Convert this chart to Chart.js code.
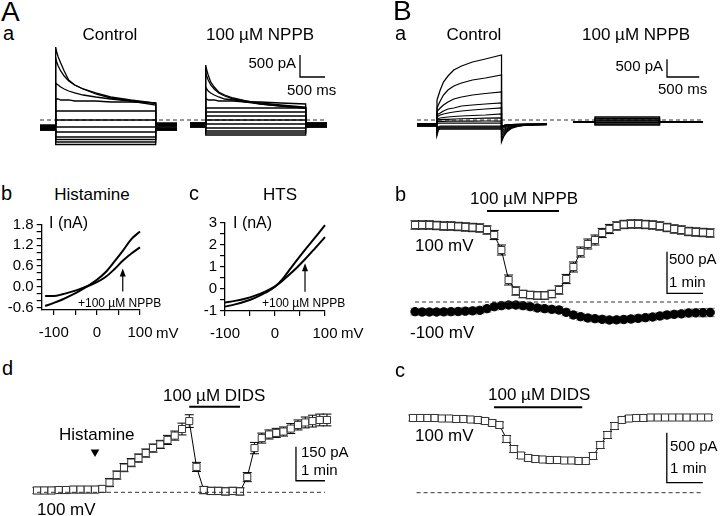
<!DOCTYPE html>
<html><head><meta charset="utf-8">
<script src="https://cdn.jsdelivr.net/npm/chart.js@4.4.1/dist/chart.umd.min.js"></script>
<style>
html,body{margin:0;padding:0;background:#fff;}
#fig{position:relative;width:720px;height:516px;overflow:hidden;background:#fff;font-family:"Liberation Sans",Arial,Helvetica,sans-serif;color:#000;}
#fig canvas{position:absolute;}
.t{position:absolute;white-space:nowrap;line-height:1;font-family:"Liberation Sans",Arial,Helvetica,sans-serif;}
</style></head><body><div id="fig"></div>
<script>
// ---------------- DATA ----------------
// Panel A a : current traces (pA) vs time (ms)
const aPulseT = [0,20,50,100,170,260,380,550,800,1100,1500,2000];
const aPre = -314, aPost = 2426;
const aCtrlDecay = [
  [1659,1546,1432,1296,1114,909,796,705,591,500,432,341],
  [1409,1318,1227,1114,1000,886,796,705,614,523,455,386],
  [841,818,796,750,705,659,614,568,523,477,432,386],
  [477,477,477,455,455,455,432,432,432,409,409,386]
];
const aCtrlSteady = [205,0,-159,-273,-386,-443,-500,-557];
const aCtrlHold = [-114,-136,-136,-159,-159,-159,-182,-182,-205,-205,-227,-227];
const aCtrlTail = [-68,-91,-91,-114,-114,-136,-159,-182,-205,-205,-227,-227];
const aNppbDecay = [
  [1250,1136,1023,864,750,636,568,500,432,386,341,295],
  [1091,1000,909,796,705,614,545,477,432,364,318,273],
  [750,705,659,614,568,523,477,455,409,364,318,273],
  [477,477,455,455,455,432,432,432,409,409,386,364]
];
const aNppbSteady = [273,182,91,0,-91,-182,-250,-295,-341];
const aNppbHold = [-68,-68,-91,-91,-91,-114,-114,-114,-136,-136,-136,-159,-159];

// Panel B a
const bPulseT = [0,20,50,100,170,260,380,550,750,1000];
const bTailT = [1000,1030,1080,1150,1250,1400,1705];
const bPre = -310;
const bCtrl = [
  [560,672,840,1064,1232,1400,1512,1624,1708,1820],
  [336,420,532,700,840,952,1036,1120,1176,1260],
  [224,280,336,420,504,588,644,700,742,784],
  [140,168,196,252,308,336,392,420,448,476],
  [84,112,140,168,196,224,252,280,308,336],
  [28,42,56,70,84,98,112,126,140,168],
  [0,5,10,15,20,28,35,42,50,56],
  [-42,-40,-38,-36,-34,-32,-30,-30,-28,-28],
  [-100,-90,-84,-84,-84,-84,-84,-84,-84,-84],
  [-280,-196,-168,-168,-168,-168,-168,-168,-168,-168],
  [-336,-224,-196,-196,-196,-196,-196,-196,-196,-196],
  [-392,-252,-224,-224,-224,-224,-224,-224,-224,-224],
  [-420,-280,-252,-252,-252,-252,-252,-252,-252,-252]
];
const bCtrlHold = [-112,-112,-112,-112,-112,-112,-112,-112,-112,-140,-140,-168,-168];
const bCtrlTail = [
  [-616,-476,-336,-238,-182,-140,-126],
  [-532,-420,-308,-224,-168,-140,-126],
  [-448,-364,-280,-210,-168,-140,-126],
  [-364,-308,-252,-196,-154,-140,-126],
  [-308,-266,-224,-182,-154,-140,-126],
  [-252,-224,-196,-168,-140,-126,-126],
  [-224,-196,-168,-154,-140,-126,-126],
  [-196,-182,-168,-154,-140,-126,-112],
  [-168,-154,-140,-140,-126,-126,-112],
  [-168,-154,-140,-140,-126,-126,-112],
  [-168,-154,-140,-140,-126,-112,-112],
  [-168,-154,-140,-126,-126,-112,-112],
  [-168,-154,-140,-126,-112,-112,-112]
];
const bNppbLevels = [84,42,0,-28,-70,-112,-140];
const bNppbHold = -56, bNppbPre = -341, bNppbPost = 1674, bNppbEnd = 1000;

// Panels A b / A c : I-V curves
const histMv = [-120,-100,-80,-60,-40,-20,0,20,40,60,80,100];
const histCtrl = [-0.56,-0.47,-0.37,-0.25,-0.12,0.03,0.2,0.42,0.72,1.04,1.38,1.6];
const histNppb = [-0.27,-0.27,-0.22,-0.15,-0.07,0.02,0.13,0.28,0.5,0.75,0.96,1.14];
const htsMv = [-100,-80,-60,-40,-20,0,15,30,45,60,80,100];
const htsCtrl = [-0.8,-0.7,-0.57,-0.4,-0.18,0.1,0.45,0.9,1.35,1.78,2.33,2.9];
const htsNppb = [-0.62,-0.54,-0.44,-0.3,-0.12,0.12,0.38,0.68,1.0,1.35,1.85,2.36];
const histXTicks = [-100,-50,0,50,100];
const histYTicks = [-0.6,-0.4,-0.2,0,0.2,0.4,0.6,0.8,1,1.2,1.4,1.6,1.8];
const histYLabels = {'-0.6':'-0.6','0':'0.0','0.6':'0.6','1.2':'1.2','1.8':'1.8'};
const htsYTicks = [-1,-0.5,0,0.5,1,1.5,2,2.5,3];
const htsYLabels = {'-1':'-1','0':'0','1':'1','2':'2','3':'3'};
const mvLabels = {'-100':'-100','0':'0','100':'100'};

// Time courses (time in min, current in pA)
const timeB = [0,0.2,0.4,0.6,0.8,1,1.2,1.4,1.6,1.8,2,2.2,2.4,2.6,2.8,3,3.2,3.4,3.6,3.8,4,4.2,4.4,4.6,4.8,5,5.2,5.4,5.6,5.8,6,6.2,6.4,6.6,6.8,7,7.2,7.4,7.6,7.8,8,8.2];
const bb100 = [924,924,924,918,912,912,906,900,894,888,864,804,624,264,132,96,84,78,78,96,144,276,420,600,696,744,828,876,912,930,936,936,930,924,912,894,876,864,846,840,834,828];
const bb100Err = [50,50,50,50,50,50,50,50,50,50,50,55,60,60,50,45,45,45,45,45,50,55,60,60,60,60,55,55,50,50,50,50,50,50,50,50,50,50,50,50,50,50];
const bbM100 = [-116,-120,-120,-120,-118,-116,-114,-110,-106,-100,-80,-56,-44,-36,-36,-44,-56,-72,-80,-88,-96,-124,-156,-176,-192,-200,-208,-216,-214,-210,-204,-196,-188,-180,-168,-156,-148,-142,-132,-130,-128,-126];
const bbM100Err = [40,40,40,40,40,40,40,40,40,40,40,40,40,40,40,40,40,40,40,40,40,40,40,40,40,40,40,40,40,40,40,40,40,40,40,40,40,40,45,45,50,50];
const bbDrug = [2.0, 4.0];
const timeD = [0,0.25,0.5,0.75,1,1.25,1.5,1.75,2,2.25,2.5,2.75,3,3.25,3.5,3.75,4,4.25,4.5,4.75,5,5.25,5.5,5.75,6,6.25,6.5,6.75,7,7.25,7.5,7.75,8,8.25,8.5,8.75,9,9.25,9.5,9.75,10];
const ad100 = [8,8,8,10,10,12,12,12,12,15,43,76,109,131,151,173,195,211,231,250,279,314,112,10,6,6,4,6,4,67,195,239,255,262,268,281,297,308,314,319,319];
const ad100Err = [14,14,14,14,14,14,14,14,14,14,18,18,18,18,18,18,18,18,20,20,26,28,20,16,16,16,16,16,16,20,25,22,20,20,20,22,22,24,26,26,26];
const adDrug = [5.25, 7.0];
const adHistamine = 2.0;
const bc100 = [747,747,747,747,742,742,737,737,732,727,717,697,677,537,437,372,347,337,332,327,327,322,322,317,317,367,477,577,667,727,742,747,747,752,752,752,752,752,752,752,752,752];
const bc100Err = [30,30,30,30,30,30,30,30,30,30,30,30,30,35,35,30,30,30,30,30,30,30,30,30,30,35,35,35,35,30,30,30,30,30,30,30,30,30,30,30,30,30];
const bcDrug = [2.25, 4.7];

// ---------------- HELPERS ----------------
const FONT = '"Liberation Sans", Arial, Helvetica, sans-serif';
Chart.defaults.font.family = FONT;
Chart.defaults.color = '#000';
const fig = document.getElementById('fig');

function txt(s, x, base, size, align) {
  const d = document.createElement('div');
  d.className = 't'; d.textContent = s;
  d.style.fontSize = size + 'px'; d.style.height = size + 'px';
  d.style.top = (base - 0.8465 * size) + 'px';
  if (align === 'right') d.style.right = (720 - x) + 'px';
  else if (align === 'center') { d.style.left = x + 'px'; d.style.transform = 'translateX(-50%)'; }
  else d.style.left = x + 'px';
  fig.appendChild(d);
}
function mkCanvas(l, t, w, h) {
  const c = document.createElement('canvas');
  c.width = w; c.height = h;
  c.style.left = l + 'px'; c.style.top = t + 'px';
  c.style.width = w + 'px'; c.style.height = h + 'px';
  fig.appendChild(c); return c;
}
const zip = (xs, ys) => xs.map((x, i) => ({x, y: ys[i]}));

const errorBarPlugin = {
  id: 'errbars',
  beforeDatasetsDraw(chart) {
    const ctx = chart.ctx;
    chart.data.datasets.forEach((ds, di) => {
      if (!ds.errors) return;
      const meta = chart.getDatasetMeta(di);
      const ys = chart.scales[meta.yAxisID];
      ctx.save();
      ctx.strokeStyle = ds.errorColor || '#000'; ctx.lineWidth = 1;
      meta.data.forEach((pt, i) => {
        const v = ds.data[i].y, e = ds.errors[i];
        const y1 = ys.getPixelForValue(v + e), y2 = ys.getPixelForValue(v - e);
        ctx.beginPath();
        ctx.moveTo(pt.x, y1); ctx.lineTo(pt.x, y2);
        ctx.moveTo(pt.x - 4.5, y1); ctx.lineTo(pt.x + 4.5, y1);
        ctx.moveTo(pt.x - 4.5, y2); ctx.lineTo(pt.x + 4.5, y2);
        ctx.stroke();
      });
      ctx.restore();
    });
  }
};
const arrowPlugin = {
  id: 'arrow',
  afterDatasetsDraw(chart, args, o) {
    if (!o || o.x === undefined) return;
    const xs = chart.scales.x, ys = chart.scales.y, ctx = chart.ctx;
    const x = xs.getPixelForValue(o.x), y0 = ys.getPixelForValue(o.from), y1 = ys.getPixelForValue(o.to);
    ctx.save(); ctx.strokeStyle = '#000'; ctx.fillStyle = '#000'; ctx.lineWidth = 1.2;
    ctx.beginPath(); ctx.moveTo(x, y0); ctx.lineTo(x, y1 + 6); ctx.stroke();
    ctx.beginPath(); ctx.moveTo(x, y1); ctx.lineTo(x - 3, y1 + 8); ctx.lineTo(x + 3, y1 + 8); ctx.closePath(); ctx.fill();
    ctx.restore();
  }
};

// area in page px, maps: {p: pixel, v: value at that pixel, k: units per px}
function plotChart(area, xmaps, ymap, datasets) {
  const pad = 8;
  const c = mkCanvas(area.l - pad, area.t - pad, area.r - area.l + 2 * pad, area.b - area.t + 2 * pad);
  const scales = {};
  for (const id in xmaps) {
    const m = xmaps[id];
    scales[id] = {type: 'linear', display: false, min: m.v + (area.l - m.p) * m.k, max: m.v + (area.r - m.p) * m.k};
  }
  scales.y = {type: 'linear', display: false, min: ymap.v - (area.b - ymap.p) * ymap.k, max: ymap.v + (ymap.p - area.t) * ymap.k};
  datasets.forEach(d => {
    d.clip = false; d.fill = false;
    if (d.borderColor === undefined) d.borderColor = '#000';
    if (d.borderWidth === undefined) d.borderWidth = 1;
    if (d.pointRadius === undefined) d.pointRadius = 0;
    d.tension = 0;
  });
  return new Chart(c, {
    type: 'line', data: {datasets},
    options: {responsive: false, animation: false, events: [], layout: {padding: pad},
      plugins: {legend: {display: false}, tooltip: {enabled: false}}, scales},
    plugins: [errorBarPlugin]
  });
}
function trace(tPre, hold, tPulse, vals, tTail, tails) {
  const pts = [{x: tPre, y: hold}, {x: tPulse[0], y: hold}];
  tPulse.forEach((t, i) => pts.push({x: t, y: vals[i]}));
  tTail.forEach((t, i) => pts.push({x: t, y: tails[i]}));
  return pts;
}
function dashed(axis, x0, x1, y) {
  return {data: [{x: x0, y}, {x: x1, y}], borderDash: [4, 3], borderColor: '#333', borderWidth: 1, xAxisID: axis};
}
function scaleBar(axis, x, y, dx, dy, w) {
  return {data: [{x, y: y + dy}, {x, y}, {x: x + dx, y}], borderWidth: w || 1.3, xAxisID: axis};
}
function drugBar(x0, x1, y) {
  return {data: [{x: x0, y}, {x: x1, y}], borderWidth: 2};
}

// ---------------- PANEL A a ----------------
(function () {
  const ds = [];
  const endA = aPulseT[aPulseT.length - 1];
  const tailT = [endA, aPost];
  const W = 1.3;
  aCtrlDecay.forEach((v, i) => ds.push({data: trace(aPre, aCtrlHold[i], aPulseT, v, tailT, [aCtrlTail[i], aCtrlTail[i]]), xAxisID: 'xC', borderWidth: W}));
  aCtrlSteady.forEach((lv, j) => { const i = j + aCtrlDecay.length;
    ds.push({data: trace(aPre, aCtrlHold[i], [0, endA], [lv, lv], tailT, [aCtrlTail[i], aCtrlTail[i]]), xAxisID: 'xC', borderWidth: W}); });
  aNppbDecay.forEach((v, i) => ds.push({data: trace(aPre, aNppbHold[i], aPulseT, v, tailT, [aNppbHold[i], aNppbHold[i]]), xAxisID: 'xN', borderWidth: W}));
  aNppbSteady.forEach((lv, j) => { const i = j + aNppbDecay.length;
    ds.push({data: trace(aPre, aNppbHold[i], [0, endA], [lv, lv], tailT, [aNppbHold[i], aNppbHold[i]]), xAxisID: 'xN', borderWidth: W}); });
  ds.push(dashed('xC', -314, 5386, 0));
  ds.push(scaleBar('xC', 4886, 977, 500, 500));
  plotChart({l: 30, r: 345, t: 36, b: 154},
    {xC: {p: 55.7, v: 0, k: 20}, xN: {p: 205.7, v: 0, k: 20}},
    {p: 120, v: 0, k: 22.73}, ds);
})();

// ---------------- PANEL B a ----------------
(function () {
  const ds = [];
  bCtrl.forEach((v, i) => ds.push({data: trace(bPre, bCtrlHold[i], bPulseT, v, bTailT, bCtrlTail[i]), xAxisID: 'xC', borderWidth: 1.25}));
  bNppbLevels.forEach(lv => ds.push({data: trace(bNppbPre, bNppbHold, [0, bNppbEnd], [lv, lv], [bNppbEnd, bNppbPost], [bNppbHold, bNppbHold]), xAxisID: 'xN', borderWidth: 1.4}));
  ds.push(dashed('xC', -310, 4123, 0));
  ds.push(scaleBar('xC', 3565, 1204, 500, 500));
  plotChart({l: 405, r: 718, t: 36, b: 154},
    {xC: {p: 437, v: 0, k: 15.5}, xN: {p: 595, v: 0, k: 15.5}},
    {p: 120, v: 0, k: 28}, ds);
})();

// ---------------- IV PANELS ----------------
function ivChart(box, yW, xH, xr, yr, xTicks, xLab, yTicks, yLab, series, arrow) {
  const c = mkCanvas(box.l, box.t, box.w, box.h);
  const gridOpt = {display: true, drawOnChartArea: false, drawTicks: true, tickLength: 5, color: '#000', tickColor: '#000', lineWidth: 1.2};
  return new Chart(c, {
    type: 'line',
    data: {datasets: series.map(s => ({data: zip(s.x, s.y), borderColor: '#000', borderWidth: 2, pointRadius: 0, cubicInterpolationMode: 'monotone', clip: false, fill: false}))},
    options: {responsive: false, animation: false, events: [], layout: {padding: box.pad},
      plugins: {legend: {display: false}, tooltip: {enabled: false}, arrow},
      scales: {
        x: {type: 'linear', position: 'bottom', min: xr[0], max: xr[1],
          afterBuildTicks: s => { s.ticks = xTicks.map(v => ({value: v})); },
          afterFit: s => { s.height = xH; },
          ticks: {autoSkip: false, maxRotation: 0, padding: 9, color: '#000', font: {size: 15, family: FONT}, callback: v => (xLab[v] !== undefined ? xLab[v] : '')},
          grid: gridOpt, border: {display: true, color: '#000', width: 1.3}},
        y: {type: 'linear', position: 'left', min: yr[0], max: yr[1],
          afterBuildTicks: s => { s.ticks = yTicks.map(v => ({value: v})); },
          afterFit: s => { s.width = yW; },
          ticks: {autoSkip: false, padding: 3, color: '#000', font: {size: 15, family: FONT}, callback: v => (yLab[v] !== undefined ? yLab[v] : '')},
          grid: gridOpt, border: {display: true, color: '#000', width: 1.3}}
      }},
    plugins: [arrowPlugin]
  });
}
ivChart({l: 0, t: 205, w: 190, h: 145, pad: {left: 0, top: 19.6, right: 50, bottom: 10}}, 41.7, 30,
  [-128, 100], [-0.675, 1.8], histXTicks, mvLabels, histYTicks, histYLabels,
  [{x: histMv, y: histCtrl}, {x: histMv, y: histNppb}], {x: 60, from: -0.14, to: 0.53});
ivChart({l: 185, t: 205, w: 185, h: 145, pad: {left: 0, top: 18, right: 45, bottom: 9}}, 40, 30,
  [-100, 100], [-1, 3], histXTicks, mvLabels, htsYTicks, htsYLabels,
  [{x: htsMv, y: htsCtrl}, {x: htsMv, y: htsNppb}], {x: 60, from: -0.12, to: 1.17});

// ---------------- TIME COURSES ----------------
function squares(t, v, err) {
  return {data: zip(t, v), errors: err, borderColor: '#000', borderWidth: 1, pointStyle: 'rect', pointRadius: 5,
    pointBackgroundColor: '#fff', pointBorderColor: '#333', pointBorderWidth: 1};
}
// B b
plotChart({l: 405, r: 720, t: 205, b: 335}, {x: {p: 415, v: 0, k: 1 / 36}}, {p: 302, v: 0, k: 12}, [
  dashed('x', 0, 8.0, 0),
  squares(timeB, bb100, bb100Err),
  {data: zip(timeB, bbM100), errors: bbM100Err, errorColor: '#777', borderColor: '#000', borderWidth: 1, pointStyle: 'circle', pointRadius: 4.2,
    pointBackgroundColor: '#000', pointBorderColor: '#000', pointBorderWidth: 1},
  drugBar(bbDrug[0], bbDrug[1], 1092),
  scaleBar('x', 7.0, 104, 1, 500)
]);
// A d
plotChart({l: 25, r: 345, t: 395, b: 505}, {x: {p: 37, v: 0, k: 1 / 29}}, {p: 492.3, v: 0, k: 4.41}, [
  dashed('x', 0, 9.93, 0),
  squares(timeD, ad100, ad100Err),
  drugBar(adDrug[0], adDrug[1], 377),
  scaleBar('x', 8.93, 51, 1, 150),
  {data: [{x: adHistamine, y: 178}], pointStyle: 'triangle', pointRotation: 180, pointRadius: 5, pointBackgroundColor: '#000', pointBorderColor: '#000', borderWidth: 0}
]);
// B c
plotChart({l: 403, r: 720, t: 395, b: 505}, {x: {p: 413, v: 0, k: 1 / 36}}, {p: 492.7, v: 0, k: 10}, [
  dashed('x', 0.1, 8.05, 0),
  squares(timeB, bc100, bc100Err),
  drugBar(bcDrug[0], bcDrug[1], 854),
  scaleBar('x', 7.05, 100, 1, 500)
]);

// ---------------- TEXT ----------------
txt('A', 1, 22, 28);
txt('a', 3, 40, 20);
txt('Control', 110, 40, 17, 'center');
txt('100 \u00B5M NPPB', 206, 40, 17);
txt('500 pA', 296, 68, 15, 'right');
txt('500 ms', 287, 95, 15);
txt('B', 393, 21, 28);
txt('a', 395, 40, 20);
txt('Control', 474, 40, 17, 'center');
txt('100 \u00B5M NPPB', 582, 40, 17);
txt('500 pA', 663, 71, 15, 'right');
txt('500 ms', 658, 94, 15);
txt('b', 1, 200, 20);
txt('Histamine', 92, 200, 17, 'center');
txt('c', 189, 200, 20);
txt('HTS', 280, 200, 17, 'center');
txt('I (nA)', 49, 228.5, 16);
txt('I (nA)', 233, 228.5, 16);
txt('mV', 156, 338, 15);
txt('mV', 341, 338, 15);
txt('+100 \u00B5M NPPB', 78, 307, 12);
txt('+100 \u00B5M NPPB', 262, 307, 12);
txt('b', 395, 201, 20);
txt('100 \u00B5M NPPB', 470, 204, 17);
txt('100 mV', 415, 251, 17);
txt('-100 mV', 410, 338, 17);
txt('500 pA', 669, 264, 15);
txt('1 min', 669, 286.5, 15);
txt('d', 2, 375, 20);
txt('100 \u00B5M DIDS', 163, 401.5, 17);
txt('Histamine', 59, 440, 17);
txt('150 pA', 301, 457, 15);
txt('1 min', 301, 475, 15);
txt('100 mV', 37, 515, 17);
txt('c', 395, 377, 20);
txt('100 \u00B5M DIDS', 488, 400, 17);
txt('100 mV', 415, 441.5, 17);
txt('500 pA', 670, 451, 15);
txt('1 min', 670, 473, 15);
</script></body></html>
